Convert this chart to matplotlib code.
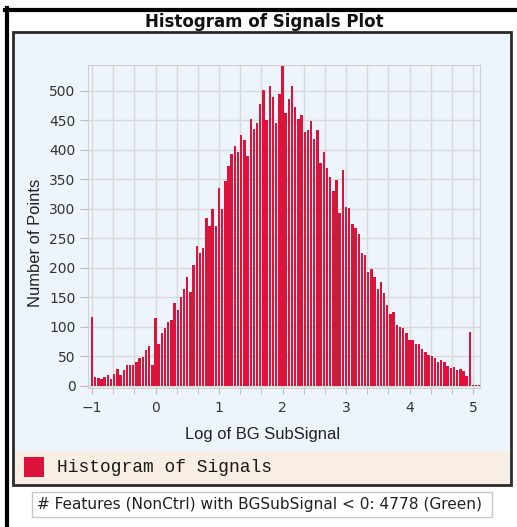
import numpy as np
import matplotlib.pyplot as plt
from matplotlib.patches import Rectangle
from matplotlib.lines import Line2D
from matplotlib.ticker import MultipleLocator

# histogram bins: 0.05 wide, starting at -1 (log of BG SubSignal)
bin_start = -1.0
bin_width = 0.05
counts = [
    117, 16, 13, 12, 15, 19, 12, 20, 28, 19, 27, 36, 36, 36, 41, 48, 49, 61, 67, 36,
    115, 72, 89, 98, 109, 112, 140, 129, 150, 165, 185, 160, 205, 238, 226, 234, 285, 271, 300, 271,
    336, 300, 348, 373, 393, 407, 397, 425, 417, 389, 452, 435, 445, 478, 501, 450, 508, 489, 445, 495,
    543, 462, 487, 508, 473, 452, 459, 430, 434, 449, 418, 434, 378, 397, 369, 355, 330, 349, 293, 366,
    304, 302, 274, 268, 257, 226, 222, 194, 199, 185, 165, 177, 157, 137, 122, 126, 103, 100, 98, 90,
    78, 78, 72, 72, 63, 58, 53, 50, 47, 41, 44, 41, 34, 30, 32, 27, 28, 25, 17, 92, 2, 2, 2,
]
x_ticks = [-1, 0, 1, 2, 3, 4, 5]
y_ticks = [0, 50, 100, 150, 200, 250, 300, 350, 400, 450, 500]

title = "Histogram of Signals Plot"
x_label = "Log of BG SubSignal"
y_label = "Number of Points"
legend_label = "Histogram of Signals"
footer = "# Features (NonCtrl) with BGSubSignal < 0: 4778 (Green)"

bar_color = "#DC143C"
panel_bg = "#EEF4FB"
legend_bg = "#F8EEE4"
grid_color = "#D9D9D9"

W, H = 517, 527
fig = plt.figure(figsize=(W / 100, H / 100), dpi=100)


def fx(px):
    return px / W


def fy(py):
    return 1 - py / H


# outer black frame (top and left only)
fig.add_artist(Line2D([fx(5), 1], [fy(9.5), fy(9.5)], color="black", lw=3))
fig.add_artist(Line2D([fx(6.5), fx(6.5)], [fy(8), 0], color="black", lw=3))

# chart panel
fig.add_artist(Rectangle((fx(13), fy(485)), fx(511) - fx(13), fy(32) - fy(485),
                         facecolor=panel_bg, edgecolor="#2b2b2b", lw=2, zorder=0))
# legend strip
fig.add_artist(Rectangle((fx(14.5), fy(483.5)), fx(509.5) - fx(14.5), fy(451) - fy(483.5),
                         facecolor=legend_bg, edgecolor="none", zorder=1))
fig.add_artist(Rectangle((fx(24), fy(477)), fx(44) - fx(24), fy(457) - fy(477),
                         facecolor=bar_color, edgecolor="none", zorder=2))
fig.text(fx(57), fy(467), legend_label, family="Liberation Mono", fontsize=12.9,
         va="center", ha="left", color="#1a1a1a")

# title
fig.text(fx(264), fy(22), title, fontsize=12, fontweight="bold", ha="center", va="center",
         color="#111111")

# footer box
fig.add_artist(Rectangle((fx(32), fy(517)), fx(492) - fx(32), fy(492) - fy(517),
                         facecolor="white", edgecolor="#C8C8C8", lw=1))
fig.text(fx(37), fy(504.5), footer, fontsize=11.1, ha="left", va="center", color="#222222")

# plot area
ax = fig.add_axes([fx(88), fy(388), fx(480) - fx(88), fy(65) - fy(388)])
ax.set_facecolor(panel_bg)
edges = bin_start + bin_width * np.arange(len(counts))
ax.bar(edges, counts, width=bin_width * 0.76, color=bar_color, linewidth=0, zorder=3)

ax.set_xlim(-1.063, 5.11)
ax.set_ylim(-3.4, max(counts) + 1)
ax.set_xticks(x_ticks)
ax.xaxis.set_minor_locator(MultipleLocator(1 / 3))
ax.set_yticks(y_ticks)
ax.grid(True, which="both", axis="x", color=grid_color, lw=1, zorder=1)
ax.grid(True, which="major", axis="y", color=grid_color, lw=1, zorder=1)
ax.tick_params(axis="both", which="both", colors="#BBBBBB", labelcolor="#333333",
               labelsize=10, direction="out")
ax.tick_params(axis="x", which="both", length=4, pad=5)
ax.tick_params(axis="y", length=6, pad=3)
for s in ax.spines.values():
    s.set_color("#D0D0D0")

fig.text(fx(263), fy(434), x_label, family="Liberation Sans", fontsize=11.9,
         ha="center", va="center", color="#222222")
fig.text(fx(35), fy(243), y_label, family="Liberation Sans", fontsize=11.9, rotation=90,
         ha="center", va="center", color="#222222")

fig.savefig("out.png", dpi=100)
